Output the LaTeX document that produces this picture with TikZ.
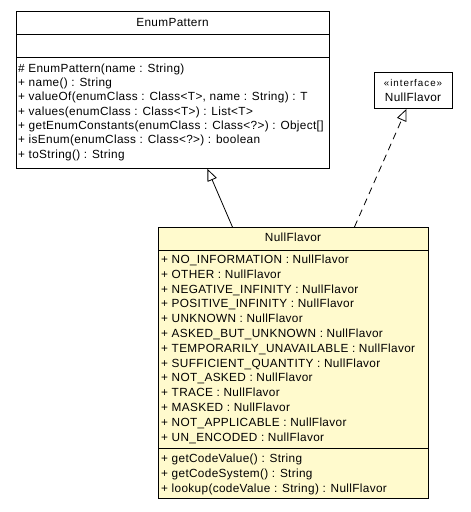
\documentclass[tikz,border=0pt]{standalone}
\usepackage{fontspec}
\setmainfont{Liberation Sans}
\newfontfamily\umlfam[LetterSpace=2.9]{Liberation Sans}
\newfontfamily\stereofam[LetterSpace=10]{Liberation Sans}
\usetikzlibrary{arrows.meta,positioning}
\definecolor{ink}{HTML}{000000}
\definecolor{classsoft}{HTML}{FFFACD}
\newcommand{\umlfont}{\umlfam\fontsize{11.8}{14.33}\selectfont}

\begin{document}
\begin{tikzpicture}[x=1pt,y=-1pt,
  classbox/.style={draw=ink,line width=0.9pt,fill=white,anchor=north west,inner sep=0pt},
  members/.style={anchor=base west,align=left,inner sep=0pt,font=\umlfont},
  title/.style={anchor=base,inner sep=0pt,font=\umlfont},
  realize/.style={-{Triangle[open,length=12pt,width=10pt]},line width=0.8pt},
]
  \useasboundingbox (0,0) rectangle (471,512);
  % EnumPattern
  \node[classbox,minimum width=313pt,minimum height=157pt] (ep) at (16,11) {};
  \draw[line width=0.9pt] ([yshift=-23pt]ep.north west) -- ([yshift=-23pt]ep.north east);
  \draw[line width=0.9pt] ([yshift=-46pt]ep.north west) -- ([yshift=-46pt]ep.north east);
  \node[title] (ep-name) at (172.5,26.3) {EnumPattern};
  \node[members] (ep-ops) at (18,158.3)
    {\# EnumPattern(name : String)\\
     + name() : String\\
     + valueOf(enumClass : Class<T>, name : String) : T\\
     + values(enumClass : Class<T>) : List<T>\\
     + getEnumConstants(enumClass : Class<?>) : Object[]\\
     + isEnum(enumClass : Class<?>) : boolean\\
     + toString() : String};
  % interface
  \node[classbox,minimum width=78pt,minimum height=36pt] (ifc) at (374,72) {};
  \node[title,font=\stereofam\fontsize{9.8}{11}\selectfont] (ifc-st) at (413,86) {«interface»};
  \node[title] (ifc-name) at (413,101) {NullFlavor};
  % NullFlavor
  \node[classbox,fill=classsoft,minimum width=270pt,minimum height=271pt] (nf) at (158,227) {};
  \draw[line width=0.9pt] ([yshift=-23pt]nf.north west) -- ([yshift=-23pt]nf.north east);
  \draw[line width=0.9pt] ([yshift=-221pt]nf.north west) -- ([yshift=-221pt]nf.north east);
  \node[title] (nf-name) at (293,241.3) {NullFlavor};
  \node[members,font=\umlfam\fontsize{11.8}{14.83}\selectfont] (nf-attrs) at (161,441.3)
    {+ NO\_INFORMATION : NullFlavor\\
     + OTHER : NullFlavor\\
     + NEGATIVE\_INFINITY : NullFlavor\\
     + POSITIVE\_INFINITY : NullFlavor\\
     + UNKNOWN : NullFlavor\\
     + ASKED\_BUT\_UNKNOWN : NullFlavor\\
     + TEMPORARILY\_UNAVAILABLE : NullFlavor\\
     + SUFFICIENT\_QUANTITY : NullFlavor\\
     + NOT\_ASKED : NullFlavor\\
     + TRACE : NullFlavor\\
     + MASKED : NullFlavor\\
     + NOT\_APPLICABLE : NullFlavor\\
     + UN\_ENCODED : NullFlavor};
  \node[members,font=\umlfam\fontsize{11.8}{15}\selectfont] (nf-ops) at (161,492.3)
    {+ getCodeValue() : String\\
     + getCodeSystem() : String\\
     + lookup(codeValue : String) : NullFlavor};
  % relations
  \draw[realize] ([xshift=-61pt]nf.north) -- ([xshift=34.5pt]ep.south);
  \draw[realize,dash pattern=on 7pt off 5pt] ([xshift=61pt]nf.north) -- ([xshift=-7pt]ifc.south);
\end{tikzpicture}
\end{document}
